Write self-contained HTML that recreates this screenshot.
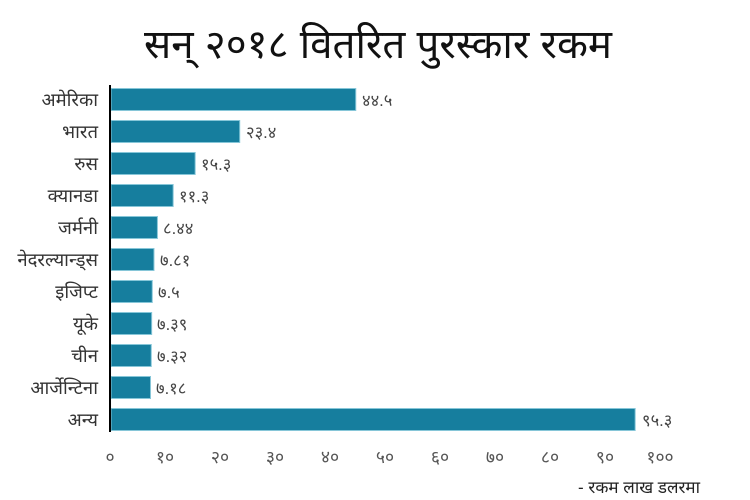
<!DOCTYPE html>
<html><head><meta charset="utf-8"><style>
html,body{margin:0;padding:0;background:#fff;}
svg{display:block;}
text{font-family:"Liberation Sans","Noto Sans Devanagari","Lohit Devanagari","Mangal",sans-serif;}
</style></head><body>
<svg width="750" height="500" viewBox="0 0 750 500" xmlns="http://www.w3.org/2000/svg">
<rect width="750" height="500" fill="#fff"/>
<text x="378" y="58" font-size="40" text-anchor="middle" fill="#111" textLength="468" lengthAdjust="spacingAndGlyphs">सन् २०१८ वितरित पुरस्कार रकम</text>
<g fill="#167e9e" stroke="#86c6d8" stroke-width="1">
<rect x="111" y="88.5" width="244.75" height="22"/>
<rect x="111" y="120.5" width="128.7" height="22"/>
<rect x="111" y="152.5" width="84.15" height="22"/>
<rect x="111" y="184.5" width="62.15" height="22"/>
<rect x="111" y="216.5" width="46.42" height="22"/>
<rect x="111" y="248.5" width="42.96" height="22"/>
<rect x="111" y="280.5" width="41.25" height="22"/>
<rect x="111" y="312.5" width="40.65" height="22"/>
<rect x="111" y="344.5" width="40.26" height="22"/>
<rect x="111" y="376.5" width="39.49" height="22"/>
<rect x="111" y="408.5" width="524.15" height="22"/>
</g>
<line x1="110" y1="85" x2="110" y2="432" stroke="#000" stroke-width="2"/>
<g font-size="18.5" fill="#333" text-anchor="end">
<text x="98" y="106">अमेरिका</text>
<text x="98" y="138">भारत</text>
<text x="98" y="170">रुस</text>
<text x="98" y="202">क्यानडा</text>
<text x="98" y="234">जर्मनी</text>
<text x="98" y="266">नेदरल्यान्ड्स</text>
<text x="98" y="298">इजिप्ट</text>
<text x="98" y="330">यूके</text>
<text x="98" y="362">चीन</text>
<text x="98" y="394">आर्जेन्टिना</text>
<text x="98" y="426">अन्य</text>
</g>
<g font-size="16.5" fill="#444">
<text x="362" y="106">४४.५</text>
<text x="246" y="138">२३.४</text>
<text x="201" y="170">१५.३</text>
<text x="179" y="202">११.३</text>
<text x="163" y="234">८.४४</text>
<text x="160" y="266">७.८१</text>
<text x="158" y="298">७.५</text>
<text x="157" y="330">७.३९</text>
<text x="157" y="362">७.३२</text>
<text x="156" y="394">७.१८</text>
<text x="642" y="426">९५.३</text>
</g>
<g font-size="17.5" fill="#555" text-anchor="middle">
<text x="110" y="463">०</text>
<text x="165" y="463">१०</text>
<text x="220" y="463">२०</text>
<text x="275" y="463">३०</text>
<text x="330" y="463">४०</text>
<text x="385" y="463">५०</text>
<text x="440" y="463">६०</text>
<text x="495" y="463">७०</text>
<text x="550" y="463">८०</text>
<text x="605" y="463">९०</text>
<text x="660" y="463">१००</text>
</g>
<text x="700" y="493" font-size="17" fill="#222" text-anchor="end">- रकम लाख डलरमा</text>
</svg>
</body></html>
